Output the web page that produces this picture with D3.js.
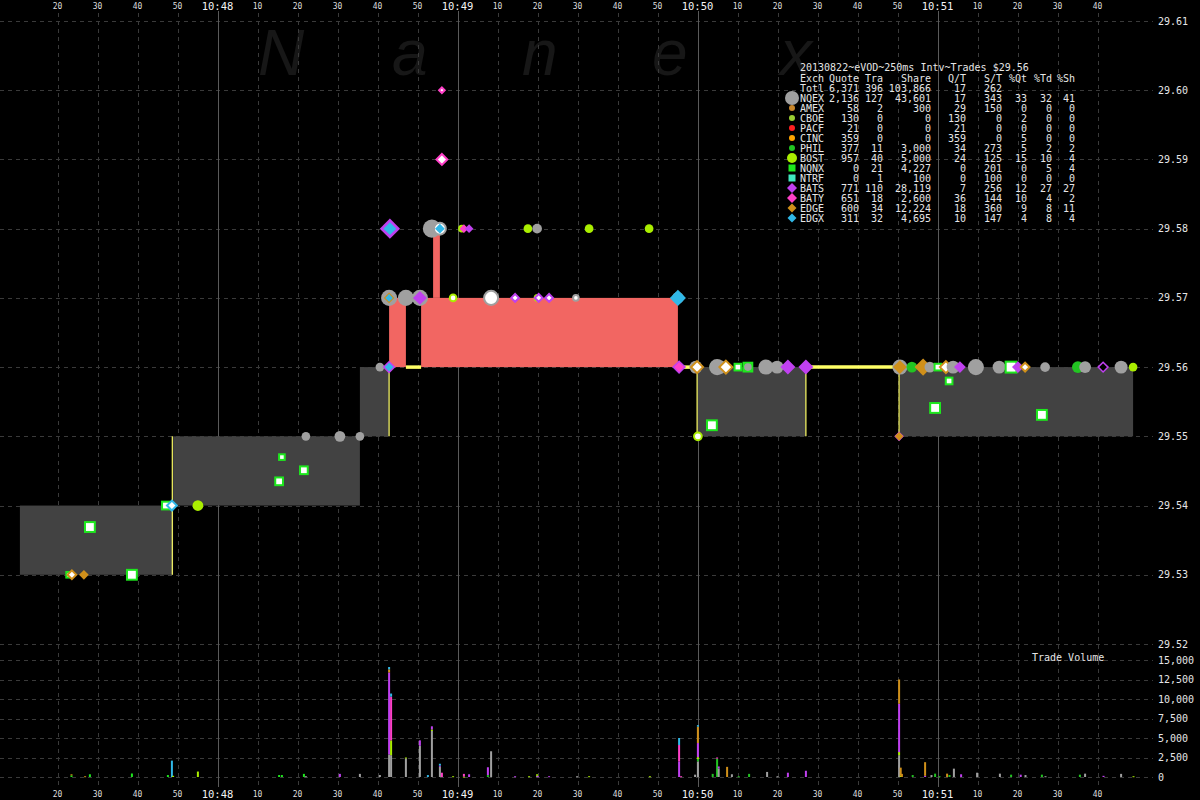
<!DOCTYPE html>
<html>
<head>
<meta charset="utf-8">
<script src="https://cdn.jsdelivr.net/npm/d3@7"></script>
<style>
  html, body { margin: 0; padding: 0; background: #000; }
  svg { display: block; }
  text { font-family: "DejaVu Sans Mono", monospace; fill: #e6e6e6; }
</style>
</head>
<body>
<svg id="chart" width="1200" height="800"></svg>
<script>
// ---------- exchange summary (VOD, 2013-08-22, 250ms intervals) ----------
const exchanges   = ["NQEX","AMEX","CBOE","PACF","CINC","PHIL","BOST","NQNX","NTRF","BATS","BATY","EDGE","EDGX"];
const exchColors  = ["#a0a0a0","#c8862a","#9acd32","#ff2020","#ffa500","#22c422","#aaee00","#1ee81e","#40e8c0","#c040f0","#ff40c8","#d0901a","#30b8e8"];
const exchShapes  = ["circle","circle","circle","circle","circle","circle","circle","square","square","diamond","diamond","diamond","diamond"];
const quoteCounts = [2136, 58, 130, 21, 359, 377, 957, 0, 0, 771, 651, 600, 311];
const tradeCounts = [127, 2, 0, 0, 0, 11, 40, 21, 1, 110, 18, 34, 32];
const shareCounts = [43601, 300, 0, 0, 0, 3000, 5000, 4227, 100, 28119, 2600, 12224, 4695];
const quotesPerTrade = [17, 29, 130, 21, 359, 34, 24, 0, 0, 7, 36, 18, 10];
const sharesPerTrade = [343, 150, 0, 0, 0, 273, 125, 201, 100, 256, 144, 360, 147];
const pctQuotes = [33, 0, 2, 0, 5, 5, 15, 0, 0, 12, 10, 9, 4];
const pctTrades = [32, 0, 0, 0, 0, 2, 10, 5, 0, 27, 4, 8, 8];
const pctShares = [41, 0, 0, 0, 0, 2, 4, 4, 0, 27, 2, 11, 4];
const totalRow  = ["Totl", 6371, 396, 103866, 17, 262];
const legendTitle = "20130822~eVOD~250ms Intv~Trades $29.56";
const legendHeader = ["Exch", "Quote", "Tra", "Share", "Q/T", "S/T", "%Qt", "%Td", "%Sh"];

// ---------- axes ----------
const priceTicks  = [29.52, 29.53, 29.54, 29.55, 29.56, 29.57, 29.58, 29.59, 29.60, 29.61];
const volumeTicks = [0, 2500, 5000, 7500, 10000, 12500, 15000];
const timeStart = "10:47:15", timeEnd = "10:51:45";

// ---------- NBBO spread bands: [from, to, bid, ask, state] ----------
const spreadBands = [
  ["10:47:10.6", "10:47:48.9", 29.53, 29.54, "normal"],
  ["10:47:48.9", "10:48:35.6", 29.54, 29.55, "normal"],
  ["10:48:35.6", "10:48:42.9", 29.55, 29.56, "normal"],
  ["10:48:42.9", "10:48:47.1", 29.56, 29.57, "crossed"],
  ["10:48:50.9", "10:49:55.1", 29.56, 29.57, "crossed"],
  ["10:48:53.9", "10:48:55.6", 29.57, 29.58, "crossed"],
  ["10:49:59.9", "10:50:27.1", 29.55, 29.56, "normal"],
  ["10:50:50.6", "10:51:48.9", 29.55, 29.56, "normal"]
];
// locked markets: [from, to, low, high]
const lockedSpans = [
  ["10:47:48.7", "10:47:48.7", 29.53, 29.55],
  ["10:48:42.9", "10:48:42.9", 29.55, 29.56],
  ["10:48:47.1", "10:48:50.9", 29.56, 29.56],
  ["10:49:55.1", "10:49:59.9", 29.56, 29.56],
  ["10:49:59.9", "10:49:59.9", 29.55, 29.56],
  ["10:50:27.1", "10:50:27.1", 29.55, 29.56],
  ["10:50:27.1", "10:50:50.6", 29.56, 29.56],
  ["10:50:50.4", "10:50:50.4", 29.55, 29.56]
];

// ---------- quotes (Q), trades (T), cancels (X): [time, price, exch, kind, lots] ----------
const quoteTradeMarks = [
  ["10:47:22.9", 29.53,   "NQNX", "T", 3],
  ["10:47:23.6", 29.53,   "EDGE", "T", 6],
  ["10:47:26.6", 29.53,   "EDGE", "Q", 5],
  ["10:47:28.1", 29.5369, "NQNX", "T", 7],
  ["10:47:38.6", 29.53,   "NQNX", "T", 7],
  ["10:47:47.1", 29.54,   "NQNX", "T", 5],
  ["10:47:48.6", 29.54,   "EDGX", "T", 7],
  ["10:47:55.1", 29.54,   "BOST", "Q", 6],
  ["10:48:15.4", 29.5435, "NQNX", "T", 5],
  ["10:48:16.1", 29.547,  "NQNX", "T", 3],
  ["10:48:21.6", 29.5451, "NQNX", "T", 5],
  ["10:48:22.1", 29.55,   "NQEX", "Q", 4],
  ["10:48:30.6", 29.55,   "NQEX", "Q", 6],
  ["10:48:35.6", 29.55,   "NQEX", "Q", 4],
  ["10:48:40.6", 29.56,   "NQEX", "Q", 4],
  ["10:48:42.9", 29.56,   "BATS", "Q", 8],
  ["10:48:42.9", 29.56,   "EDGX", "Q", 4],
  ["10:48:42.9", 29.57,   "NQEX", "Q", 11],
  ["10:48:42.9", 29.57,   "EDGE", "Q", 6],
  ["10:48:42.9", 29.57,   "EDGX", "Q", 3],
  ["10:48:47.1", 29.57,   "NQEX", "Q", 11],
  ["10:48:50.6", 29.57,   "NQEX", "Q", 11],
  ["10:48:50.6", 29.57,   "BATS", "Q", 9],
  ["10:48:58.9", 29.57,   "BOST", "T", 4],
  ["10:49:08.4", 29.57,   "NQEX", "T", 11],
  ["10:49:14.4", 29.57,   "BATS", "T", 5],
  ["10:49:20.0", 29.57,   "BOST", "Q", 3],
  ["10:49:20.3", 29.57,   "BATS", "T", 5],
  ["10:49:22.9", 29.57,   "BATS", "T", 5],
  ["10:49:29.6", 29.57,   "NQEX", "T", 3],
  ["10:49:55.1", 29.57,   "NQEX", "Q", 7],
  ["10:49:55.1", 29.57,   "EDGX", "Q", 11],
  ["10:48:43.1", 29.58,   "BATS", "Q", 15],
  ["10:48:43.1", 29.58,   "EDGX", "Q", 8],
  ["10:48:53.6", 29.58,   "NQEX", "Q", 13],
  ["10:48:55.6", 29.58,   "NQEX", "T", 9],
  ["10:48:55.6", 29.58,   "EDGX", "Q", 5],
  ["10:49:01.1", 29.58,   "BOST", "Q", 3],
  ["10:49:01.6", 29.58,   "BATY", "Q", 4],
  ["10:49:02.9", 29.58,   "BATS", "Q", 4],
  ["10:49:17.6", 29.58,   "BOST", "Q", 4],
  ["10:49:19.9", 29.58,   "NQEX", "Q", 5],
  ["10:49:32.9", 29.58,   "BOST", "Q", 4],
  ["10:49:47.9", 29.58,   "BOST", "Q", 4],
  ["10:48:56.1", 29.59,   "BATY", "T", 8],
  ["10:48:56.1", 29.60,   "BATY", "T", 3],
  ["10:49:55.4", 29.56,   "BATS", "Q", 9],
  ["10:49:55.4", 29.56,   "BATY", "Q", 5],
  ["10:49:59.6", 29.56,   "NQEX", "Q", 8],
  ["10:49:59.9", 29.56,   "EDGE", "T", 9],
  ["10:50:00.1", 29.55,   "BOST", "T", 5],
  ["10:50:04.6", 29.56,   "PHIL", "Q", 8],
  ["10:50:04.9", 29.56,   "NQEX", "Q", 11],
  ["10:50:05.6", 29.56,   "NQEX", "Q", 9],
  ["10:50:07.1", 29.56,   "EDGE", "T", 10],
  ["10:50:10.1", 29.56,   "NQNX", "T", 4],
  ["10:50:12.6", 29.56,   "NQNX", "Q", 6],
  ["10:50:12.6", 29.56,   "NQEX", "Q", 3],
  ["10:50:17.1", 29.56,   "NQEX", "Q", 10],
  ["10:50:19.9", 29.56,   "NQEX", "Q", 8],
  ["10:50:22.6", 29.56,   "BATS", "Q", 10],
  ["10:50:27.1", 29.56,   "BATS", "Q", 10],
  ["10:50:03.6", 29.5516, "NQNX", "T", 7],
  ["10:50:50.4", 29.55,   "BATS", "Q", 5],
  ["10:50:50.4", 29.55,   "EDGE", "Q", 4],
  ["10:50:50.6", 29.56,   "NQEX", "Q", 10],
  ["10:50:50.6", 29.56,   "EDGE", "Q", 9],
  ["10:50:53.6", 29.56,   "PHIL", "Q", 6],
  ["10:50:56.4", 29.56,   "EDGE", "Q", 12],
  ["10:50:58.1", 29.56,   "NQEX", "Q", 6],
  ["10:51:00.1", 29.56,   "NQNX", "T", 4],
  ["10:51:02.9", 29.558,  "NQNX", "T", 4],
  ["10:50:59.4", 29.5541, "NQNX", "T", 7],
  ["10:51:02.1", 29.56,   "EDGE", "T", 9],
  ["10:51:03.9", 29.56,   "NQEX", "Q", 8],
  ["10:51:05.6", 29.56,   "BATS", "Q", 7],
  ["10:51:09.6", 29.56,   "NQEX", "Q", 11],
  ["10:51:15.4", 29.56,   "NQEX", "Q", 8],
  ["10:51:18.4", 29.56,   "NQNX", "T", 8],
  ["10:51:20.1", 29.56,   "BATS", "Q", 7],
  ["10:51:21.9", 29.56,   "EDGE", "T", 6],
  ["10:51:26.1", 29.5531, "NQNX", "T", 7],
  ["10:51:26.9", 29.56,   "NQEX", "Q", 5],
  ["10:51:35.1", 29.56,   "PHIL", "Q", 7],
  ["10:51:36.9", 29.56,   "NQEX", "Q", 7],
  ["10:51:41.4", 29.56,   "BATS", "X", 7],
  ["10:51:45.9", 29.56,   "NQEX", "Q", 8],
  ["10:51:48.9", 29.56,   "BOST", "Q", 4]
];

// ---------- trade volume per 250ms interval: [time, exch, shares] ----------
const tradeVolume = [
  ["10:47:23.5", "NQNX", 200], ["10:47:23.5", "EDGE", 150],
  ["10:47:26.9", "EDGE", 100],
  ["10:47:28.1", "NQNX", 350],
  ["10:47:38.6", "NQNX", 450],
  ["10:47:47.6", "NQNX", 250],
  ["10:47:48.6", "EDGX", 2100],
  ["10:47:48.9", "BOST", 150],
  ["10:47:55.1", "BOST", 700],
  ["10:48:15.4", "NQNX", 250],
  ["10:48:16.1", "NQNX", 250],
  ["10:48:21.6", "NQNX", 400],
  ["10:48:22.1", "NQEX", 100],
  ["10:48:30.6", "BATS", 400],
  ["10:48:35.6", "NQEX", 400],
  ["10:48:40.6", "NQEX", 250],
  ["10:48:42.9", "NQEX", 2900], ["10:48:42.9", "BATS", 10500], ["10:48:42.9", "EDGE", 400], ["10:48:42.9", "EDGX", 300],
  ["10:48:43.4", "NQEX", 2800], ["10:48:43.4", "BOST", 1900], ["10:48:43.4", "BATY", 5600], ["10:48:43.4", "EDGX", 400],
  ["10:48:47.1", "NQEX", 2400], ["10:48:47.1", "BOST", 100],
  ["10:48:50.6", "NQEX", 4000], ["10:48:50.6", "BATS", 700],
  ["10:48:52.6", "EDGX", 250],
  ["10:48:53.6", "NQEX", 5900], ["10:48:53.6", "BOST", 200], ["10:48:53.6", "BATS", 400],
  ["10:48:55.6", "NQEX", 1300], ["10:48:55.6", "BATS", 150], ["10:48:55.6", "EDGX", 250],
  ["10:48:56.1", "BATY", 550],
  ["10:48:58.9", "BOST", 100],
  ["10:49:01.6", "BOST", 50], ["10:49:01.6", "BATY", 350],
  ["10:49:02.9", "BATS", 350],
  ["10:49:07.6", "PHIL", 250], ["10:49:07.6", "BATS", 1000],
  ["10:49:08.4", "NQEX", 3300],
  ["10:49:14.4", "BATS", 100],
  ["10:49:17.9", "BOST", 100],
  ["10:49:19.9", "NQEX", 150], ["10:49:19.9", "BOST", 200],
  ["10:49:20.1", "BATS", 100],
  ["10:49:22.9", "BATS", 100],
  ["10:49:29.9", "NQEX", 100],
  ["10:49:32.9", "BOST", 100],
  ["10:49:48.1", "BOST", 100],
  ["10:49:55.4", "BATS", 2000], ["10:49:55.4", "BATY", 2100], ["10:49:55.4", "EDGX", 900],
  ["10:49:55.9", "BATY", 100],
  ["10:49:59.4", "NQEX", 300],
  ["10:50:00.1", "NQEX", 2000], ["10:50:00.1", "PHIL", 300], ["10:50:00.1", "BOST", 250],
  ["10:50:00.1", "BATS", 1800], ["10:50:00.1", "EDGE", 2100], ["10:50:00.1", "EDGX", 200],
  ["10:50:03.8", "PHIL", 400],
  ["10:50:04.9", "PHIL", 2350], ["10:50:04.9", "BATY", 150],
  ["10:50:05.3", "NQEX", 1100], ["10:50:05.3", "BATS", 250],
  ["10:50:07.4", "EDGE", 1300],
  ["10:50:08.6", "NQEX", 350],
  ["10:50:10.3", "PHIL", 100],
  ["10:50:12.9", "PHIL", 400],
  ["10:50:17.4", "NQEX", 650],
  ["10:50:20.0", "NQEX", 100],
  ["10:50:22.6", "BATS", 550],
  ["10:50:27.1", "BATS", 800],
  ["10:50:50.4", "NQEX", 2800], ["10:50:50.4", "BOST", 400], ["10:50:50.4", "BATS", 6200], ["10:50:50.4", "EDGE", 3100],
  ["10:50:50.8", "BOST", 150], ["10:50:50.8", "EDGE", 1050],
  ["10:50:51.1", "EDGE", 400],
  ["10:50:53.8", "PHIL", 250],
  ["10:50:56.9", "BATS", 150], ["10:50:56.9", "EDGE", 1750],
  ["10:50:58.5", "NQEX", 250],
  ["10:50:59.4", "PHIL", 430],
  ["10:51:00.5", "PHIL", 100],
  ["10:51:02.4", "EDGE", 430],
  ["10:51:03.0", "PHIL", 250],
  ["10:51:04.1", "NQEX", 1070],
  ["10:51:05.9", "BATS", 350],
  ["10:51:09.9", "NQEX", 550],
  ["10:51:15.6", "NQEX", 430],
  ["10:51:18.4", "PHIL", 300],
  ["10:51:20.8", "BATS", 300],
  ["10:51:22.0", "NQEX", 250],
  ["10:51:26.1", "PHIL", 300],
  ["10:51:27.0", "NQEX", 100],
  ["10:51:35.6", "PHIL", 300],
  ["10:51:36.9", "NQEX", 430],
  ["10:51:41.5", "BATS", 150],
  ["10:51:45.9", "NQEX", 400],
  ["10:51:49.0", "BOST", 100]
];

// ---------- helpers ----------
const parseT = s => {
  const [h, m, sec] = s.split(":");
  const sf = +sec, whole = Math.floor(sf);
  return new Date(2013, 7, 22, +h, +m, whole, Math.round((sf - whole) * 1000));
};
const colorOf = ex => exchColors[exchanges.indexOf(ex)];
const shapeOf = ex => exchShapes[exchanges.indexOf(ex)];

const svg = d3.select("#chart");
const W = 1200, H = 800;

const x = d3.scaleTime().domain([parseT(timeStart), parseT(timeEnd)]).range([37.5, 1117.5]);
const y = d3.scaleLinear().domain([29.52, 29.61]).range([644, 21]);
const yv = d3.scaleLinear().domain([0, 15000]).range([777, 660]);
const sizeScale = d3.scaleLinear().domain([1, 10]).range([5.5, 15]);

svg.append("rect").attr("width", W).attr("height", H).attr("fill", "#000");

// watermark
const wm = svg.append("g").attr("class", "watermark");
const wmX = [258, 392, 522, 652, 780];
"Nanex".split("").forEach((ch, i) => {
  wm.append("text").attr("x", wmX[i]).attr("y", 75)
    .style("font-family", "'Liberation Sans', Arial, sans-serif")
    .style("font-style", "italic").style("font-size", "64px")
    .style("fill", "#171717").text(ch);
});

// gridlines
const grid = svg.append("g").attr("class", "grid");
const tTicks = x.ticks(d3.timeSecond.every(10));
grid.selectAll("line.vgrid").data(tTicks.filter(d => d.getSeconds() !== 0)).join("line")
  .attr("class", "vgrid")
  .attr("x1", d => Math.round(x(d)) + 0.5).attr("x2", d => Math.round(x(d)) + 0.5)
  .attr("y1", 13).attr("y2", 786)
  .attr("stroke", "#3a3a3a").attr("stroke-dasharray", "4,4");
grid.selectAll("line.pgrid").data(priceTicks).join("line")
  .attr("class", "pgrid")
  .attr("x1", 0).attr("x2", 1153)
  .attr("y1", d => Math.round(y(d)) + 0.5).attr("y2", d => Math.round(y(d)) + 0.5)
  .attr("stroke", "#3a3a3a").attr("stroke-dasharray", "4,4");
grid.selectAll("line.vol").data(volumeTicks).join("line")
  .attr("class", "vol")
  .attr("x1", 0).attr("x2", 1153)
  .attr("y1", d => Math.round(yv(d)) + 0.5).attr("y2", d => Math.round(yv(d)) + 0.5)
  .attr("stroke", "#3a3a3a").attr("stroke-dasharray", "4,4");
grid.selectAll("line.minute").data(tTicks.filter(d => d.getSeconds() === 0)).join("line")
  .attr("class", "minute")
  .attr("x1", d => Math.round(x(d)) + 0.5).attr("x2", d => Math.round(x(d)) + 0.5)
  .attr("y1", 11).attr("y2", 787)
  .attr("stroke", "#5a5a5a");

// spread bands
svg.append("g").selectAll("rect").data(spreadBands).join("rect")
  .attr("x", d => x(parseT(d[0])))
  .attr("width", d => x(parseT(d[1])) - x(parseT(d[0])))
  .attr("y", d => y(d[3]))
  .attr("height", d => y(d[2]) - y(d[3]))
  .attr("fill", d => d[4] === "crossed" ? "#f26662" : "#424242");

// locked markets
svg.append("g").selectAll("line").data(lockedSpans).join("line")
  .attr("x1", d => x(parseT(d[0]))).attr("x2", d => x(parseT(d[1])))
  .attr("y1", d => y(d[2])).attr("y2", d => y(d[3]))
  .attr("stroke", "#ffff66")
  .attr("stroke-width", d => d[2] === d[3] ? 3.5 : 1.2);

// marker shapes
function drawMark(g, shape, size, fill, stroke, sw) {
  const h = size / 2;
  if (shape === "circle") {
    return g.append("circle").attr("r", h).attr("fill", fill).attr("stroke", stroke).attr("stroke-width", sw);
  } else if (shape === "square") {
    return g.append("rect").attr("x", -h).attr("y", -h).attr("width", size).attr("height", size)
      .attr("fill", fill).attr("stroke", stroke).attr("stroke-width", sw);
  }
  return g.append("path").attr("d", `M0,${-h}L${h},0L0,${h}L${-h},0Z`)
    .attr("fill", fill).attr("stroke", stroke).attr("stroke-width", sw);
}

const marks = svg.append("g").attr("class", "marks");
quoteTradeMarks.forEach(([t, p, ex, kind, lots]) => {
  const g = marks.append("g").attr("transform", `translate(${x(parseT(t))},${y(p)})`);
  const c = colorOf(ex), s = sizeScale(lots);
  if (kind === "Q") drawMark(g, shapeOf(ex), s, c, "none", 0);
  else if (kind === "T") drawMark(g, shapeOf(ex), s - 2, "#ffffff", c, 2);
  else drawMark(g, shapeOf(ex), s - 2, "#000000", c, 1.5);
});

// trade volume: stacked by exchange order
const volByTime = d3.group(tradeVolume, d => d[0]);
const volG = svg.append("g").attr("class", "volume");
for (const [t, rows] of volByTime) {
  const xi = x(parseT(t));
  const sorted = rows.slice().sort((a, b) => exchanges.indexOf(a[1]) - exchanges.indexOf(b[1]));
  let base = 0;
  sorted.forEach(r => {
    const top = base + r[2];
    volG.append("rect")
      .attr("x", xi - 1).attr("width", 2)
      .attr("y", yv(top)).attr("height", Math.max(1, yv(base) - yv(top)))
      .attr("fill", colorOf(r[1]));
    base = top;
  });
}

// time axes (top and bottom)
function timeLabels(baseY) {
  const g = svg.append("g");
  g.selectAll("text").data(tTicks).join("text")
    .attr("x", d => x(d)).attr("text-anchor", "middle")
    .attr("y", d => d.getSeconds() === 0 ? baseY + 1 : baseY)
    .style("font-size", d => d.getSeconds() === 0 ? "10.5px" : "8px")
    .style("fill", d => d.getSeconds() === 0 ? "#f4f4f4" : "#dddddd")
    .text(d => d.getSeconds() === 0 ? d3.timeFormat("%H:%M")(d) : d3.timeFormat("%S")(d).replace(/^0/, ""));
}
timeLabels(8.5);
timeLabels(796.5);

// price and volume labels on the right
svg.append("g").selectAll("text").data(priceTicks).join("text")
  .attr("x", 1158).attr("y", d => y(d) + 3.5)
  .style("font-size", "10px").text(d => d3.format(".2f")(d));
svg.append("g").selectAll("text").data(volumeTicks).join("text")
  .attr("x", 1158).attr("y", d => yv(d) + 3.5)
  .style("font-size", "10px").text(d => d3.format(",")(d));
svg.append("text").attr("x", 1032).attr("y", 661).style("font-size", "10px").text("Trade Volume");

// exchange legend table
const lg = svg.append("g").attr("class", "legend").style("font-size", "10px");
const colRight = [859, 883, 931, 966, 1002, 1027, 1052, 1075];
lg.append("text").attr("x", 800).attr("y", 70.5).text(legendTitle);
lg.append("text").attr("x", 800).attr("y", 81.5).text(legendHeader[0]);
legendHeader.slice(1).forEach((h, i) => {
  lg.append("text").attr("x", colRight[i]).attr("y", 81.5).attr("text-anchor", "end").text(h);
});
const fmt = d3.format(",");
const rows = [[totalRow[0], ...totalRow.slice(1).map(fmt), "", "", ""]];
exchanges.forEach((ex, i) => {
  rows.push([ex, fmt(quoteCounts[i]), fmt(tradeCounts[i]), fmt(shareCounts[i]), fmt(quotesPerTrade[i]),
             fmt(sharesPerTrade[i]), fmt(pctQuotes[i]), fmt(pctTrades[i]), fmt(pctShares[i])]);
});
rows.forEach((r, ri) => {
  const by = 92 + ri * 10;
  lg.append("text").attr("x", 800).attr("y", by).text(r[0]);
  r.slice(1).forEach((v, ci) => {
    if (v !== "") lg.append("text").attr("x", colRight[ci]).attr("y", by).attr("text-anchor", "end").text(v);
  });
});
const legendSizes = [14, 6, 6, 6, 6, 6, 10, 7, 7, 10, 10, 9, 9];
exchanges.forEach((ex, i) => {
  const g = lg.append("g").attr("transform", `translate(792,${102 + i * 10 - 4})`);
  drawMark(g, exchShapes[i], legendSizes[i], exchColors[i], "none", 0);
});
</script>
</body>
</html>
